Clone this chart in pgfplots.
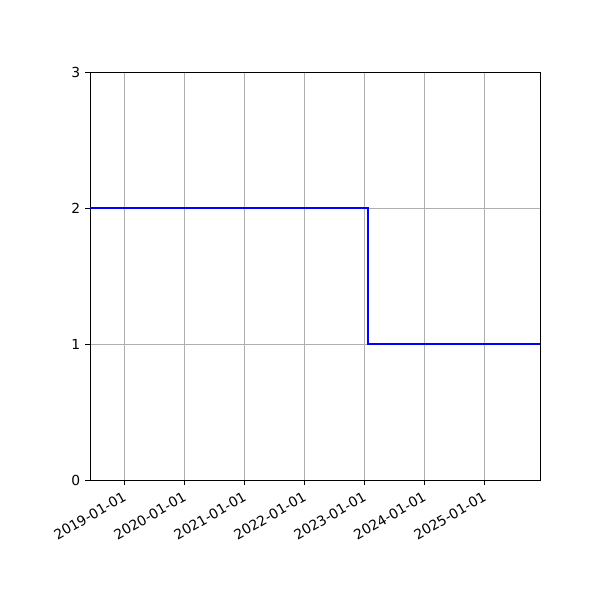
\documentclass[border=0pt]{standalone}
\usepackage{fontspec}
\setmainfont{DejaVu Sans}
\usepackage{pgfplots}
\pgfplotsset{compat=1.18}
\usepgfplotslibrary{dateplot}

\definecolor{gridgray}{HTML}{B0B0B0}

\begin{document}
\begin{tikzpicture}
\path[use as bounding box] (0,0) rectangle (432bp,432bp);
\begin{axis}[
  at = {(64.8bp,86.4bp)},
  anchor = south west,
  width = 324bp,
  height = 293.76bp,
  scale only axis,
  date coordinates in = x,
  xmin = 2018-06-06,
  xmax = 2025-12-06,
  ymin = 0,
  ymax = 3,
  xtick = {2019-01-01,2020-01-01,2021-01-01,2022-01-01,2023-01-01,2024-01-01,2025-01-01},
  xticklabels = {2019-01-01,2020-01-01,2021-01-01,2022-01-01,2023-01-01,2024-01-01,2025-01-01},
  ytick = {0,1,2,3},
  xticklabel style = {rotate=30, anchor=north east, inner sep=1pt, xshift=-2.5bp, yshift=-2bp},
  tick label style = {font=\fontsize{10}{12}\selectfont},
  /pgf/number format/assume math mode=true,
  tick align = outside,
  tick pos = left,
  major tick length = 3.5pt,
  axis line style = {line width=0.7pt},
  every tick/.style = {black, line width=0.7pt},
  xmajorgrids = true,
  ymajorgrids = true,
  grid style = {gridgray, line width=0.7pt},
  axis on top = false,
]
\addplot[blue, line width=1.5pt, const plot] coordinates {
  (2018-06-06, 2)
  (2023-01-25, 1)
  (2025-12-06, 1)
};
\end{axis}
\end{tikzpicture}
\end{document}
